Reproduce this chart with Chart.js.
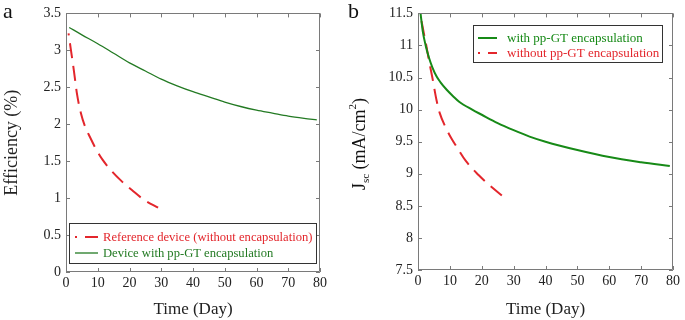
<!DOCTYPE html>
<html>
<head>
<meta charset="utf-8">
<script src="https://cdn.jsdelivr.net/npm/chart.js@4"></script>
<style>
  body { margin: 0; background: #fff; }
  #wrap { position: relative; width: 685px; height: 320px; }
  #left { position: absolute; left: 0; top: 0; }
  #right { position: absolute; left: 345px; top: 0; }
</style>
</head>
<body>
<div id="wrap">
  <canvas id="left" width="345" height="320"></canvas>
  <canvas id="right" width="340" height="320"></canvas>
</div>
<script>
// panel a - efficiency (%)
const daysA_with = [1, 5, 10, 15, 20, 25, 30, 35, 40, 45, 50, 55, 60, 65, 70, 75, 79];
const effA_with = [3.31, 3.21, 3.09, 2.96, 2.83, 2.72, 2.61, 2.52, 2.44, 2.37, 2.30, 2.24, 2.19, 2.15, 2.11, 2.08, 2.06];
const daysA_without = [0.8, 1.5, 2.5, 3.5, 4.7, 6, 7.5, 9.5, 11.5, 14.5, 17.5, 21, 24.5, 29];
const effA_without = [3.23, 3.02, 2.72, 2.40, 2.15, 1.97, 1.83, 1.66, 1.52, 1.36, 1.23, 1.10, 0.98, 0.87];

// panel b - Jsc (mA/cm2)
const daysB_with = [0.8, 1.5, 2.4, 3.5, 4.5, 5.8, 7, 9, 11, 13, 17, 20, 25, 30, 35, 40, 50, 60, 70, 79];
const jscB_with = [11.5, 11.22, 11.0, 10.8, 10.66, 10.52, 10.43, 10.31, 10.21, 10.12, 10.0, 9.92, 9.79, 9.68, 9.58, 9.5, 9.37, 9.26, 9.18, 9.12];
const daysB_without = [1.1, 2, 2.6, 3.5, 4.5, 5.8, 6.8, 8.9, 10.5, 12, 15, 19, 22, 26.3];
const jscB_without = [11.38, 11.15, 11.0, 10.75, 10.5, 10.15, 9.95, 9.70, 9.55, 9.43, 9.2, 8.98, 8.84, 8.66];

const xTicks = [0, 10, 20, 30, 40, 50, 60, 70, 80];

const serif = "'Liberation Serif', 'Times New Roman', serif";
const RED = '#e3262c';
const GREEN_A = '#237a23';
const GREEN_B = '#178a17';

function pts(xs, ys) {
    return xs.map((x, i) => ({ x: x, y: ys[i] }));
}

// box round the plot with inward ticks on all four sides
const frame = {
    id: 'frame',
    afterDatasetsDraw(chart) {
        const { ctx, chartArea: a, scales } = chart;
        ctx.save();
        ctx.strokeStyle = '#7a7a7a';
        ctx.lineWidth = 1;
        ctx.beginPath();
        ctx.rect(Math.round(a.left) + 0.5, Math.round(a.top) + 0.5,
                 Math.round(a.width) - 1, Math.round(a.height) - 1);
        scales.x.ticks.forEach(t => {
            const px = Math.round(scales.x.getPixelForValue(t.value)) + 0.5;
            ctx.moveTo(px, a.bottom); ctx.lineTo(px, a.bottom - 4);
            ctx.moveTo(px, a.top); ctx.lineTo(px, a.top + 4);
        });
        scales.y.ticks.forEach(t => {
            const py = Math.round(scales.y.getPixelForValue(t.value)) + 0.5;
            ctx.moveTo(a.left, py); ctx.lineTo(a.left + 4, py);
            ctx.moveTo(a.right, py); ctx.lineTo(a.right - 4, py);
        });
        ctx.stroke();
        ctx.restore();
    }
};

// legend box drawn inside the plot
const boxLegend = {
    id: 'boxLegend',
    afterDraw(chart, args, o) {
        const ctx = chart.ctx;
        ctx.save();
        ctx.fillStyle = '#fff';
        ctx.fillRect(o.left, o.top, o.width, o.height);
        ctx.strokeStyle = '#333';
        ctx.lineWidth = 1;
        ctx.strokeRect(o.left + 0.5, o.top + 0.5, o.width, o.height);
        o.order.forEach((idx, row) => {
            const ds = chart.data.datasets[idx];
            const y = o.rows[row];
            ctx.strokeStyle = ds.borderColor;
            ctx.lineWidth = ds.borderWidth;
            ctx.setLineDash(ds.borderDash || []);
            ctx.lineDashOffset = ds.borderDash ? 13 : 0;
            ctx.beginPath();
            ctx.moveTo(o.sampleX[0], y);
            ctx.lineTo(o.sampleX[1], y);
            ctx.stroke();
            ctx.setLineDash([]);
            ctx.fillStyle = ds.borderColor;
            ctx.font = o.fontSize + 'px ' + serif;
            ctx.textBaseline = 'middle';
            ctx.fillText(ds.label, o.textX, y + 1);
        });
        ctx.restore();
    }
};

// panel letters and the Jsc axis title
const extras = {
    id: 'extras',
    afterDraw(chart, args, o) {
        const ctx = chart.ctx;
        ctx.save();
        ctx.fillStyle = '#111';
        ctx.font = '22px ' + serif;
        ctx.textBaseline = 'alphabetic';
        ctx.fillText(o.letter, 3, 18);
        if (o.jscTitle) {
            const big = '18px ' + serif, small = '11px ' + serif;
            const parts = [
                { t: 'J', f: big, dy: 0 },
                { t: 'sc', f: small, dy: 6 },
                { t: ' (mA/cm', f: big, dy: 0 },
                { t: '2', f: small, dy: -7 },
                { t: ')', f: big, dy: 0 }
            ];
            let total = 0;
            parts.forEach(p => { ctx.font = p.f; p.w = ctx.measureText(p.t).width; total += p.w; });
            ctx.translate(15, 144);
            ctx.rotate(-Math.PI / 2);
            ctx.textBaseline = 'middle';
            let x = -total / 2;
            parts.forEach(p => { ctx.font = p.f; ctx.fillText(p.t, x, p.dy); x += p.w; });
        }
        ctx.restore();
    }
};

function baseOptions(yMin, yMax, yWidth, xHeight, padRight) {
    return {
        responsive: false,
        animation: false,
        devicePixelRatio: 1,
        layout: { padding: { left: 0, top: 10, right: padRight, bottom: 0 } },
        scales: {
            x: {
                type: 'linear', min: 0, max: 80,
                afterBuildTicks: s => { s.ticks = xTicks.map(v => ({ value: v })); },
                afterFit: s => { s.height = xHeight; },
                grid: { display: false, drawTicks: false },
                border: { display: false },
                ticks: { color: '#222', font: { family: serif, size: 14 }, padding: 3, maxRotation: 0 },
                title: { display: true, text: 'Time (Day)', color: '#222', font: { family: serif, size: 17 }, padding: 0 }
            },
            y: {
                min: yMin, max: yMax,
                afterFit: s => { s.width = yWidth; },
                grid: { display: false, drawTicks: false },
                border: { display: false },
                ticks: { stepSize: 0.5, color: '#222', font: { family: serif, size: 14 }, padding: 5,
                         callback: v => String(Math.round(v * 10) / 10) }
            }
        },
        elements: { point: { radius: 0 }, line: { tension: 0.4, cubicInterpolationMode: 'monotone' } }
    };
}

const optsA = baseOptions(0, 3.5, 66, 48, 25);
optsA.scales.y.title = { display: true, text: 'Efficiency (%)', color: '#222', font: { family: serif, size: 18 }, padding: 1 };
optsA.plugins = {
    legend: { display: false },
    tooltip: { enabled: false },
    boxLegend: { left: 69, top: 223, width: 247, height: 40, order: [0, 1], rows: [237, 253], sampleX: [75, 98], textX: 103, fontSize: 12.6 },
    extras: { letter: 'a', jscTitle: false }
};

new Chart(document.getElementById('left').getContext('2d'), {
    type: 'line',
    data: {
        datasets: [
            { label: 'Reference device (without encapsulation)', data: pts(daysA_without, effA_without),
              borderColor: RED, borderWidth: 2, borderDash: [15, 8], borderDashOffset: 13, fill: false },
            { label: 'Device with pp-GT encapsulation', data: pts(daysA_with, effA_with),
              borderColor: GREEN_A, borderWidth: 1.3, fill: false }
        ]
    },
    options: optsA,
    plugins: [frame, boxLegend, extras]
});

const optsB = baseOptions(7.5, 11.5, 73, 50, 12);
optsB.scales.y.title = { display: false };
optsB.plugins = {
    legend: { display: false },
    tooltip: { enabled: false },
    boxLegend: { left: 128, top: 25, width: 189, height: 37, order: [0, 1], rows: [38, 53], sampleX: [133, 152], textX: 162, fontSize: 13 },
    extras: { letter: 'b', jscTitle: true }
};

new Chart(document.getElementById('right').getContext('2d'), {
    type: 'line',
    data: {
        datasets: [
            { label: 'with pp-GT encapsulation', data: pts(daysB_with, jscB_with),
              borderColor: GREEN_B, borderWidth: 2, fill: false },
            { label: 'without pp-GT encapsulation', data: pts(daysB_without, jscB_without),
              borderColor: RED, borderWidth: 2, borderDash: [15, 8], fill: false }
        ]
    },
    options: optsB,
    plugins: [frame, boxLegend, extras]
});
</script>
</body>
</html>
